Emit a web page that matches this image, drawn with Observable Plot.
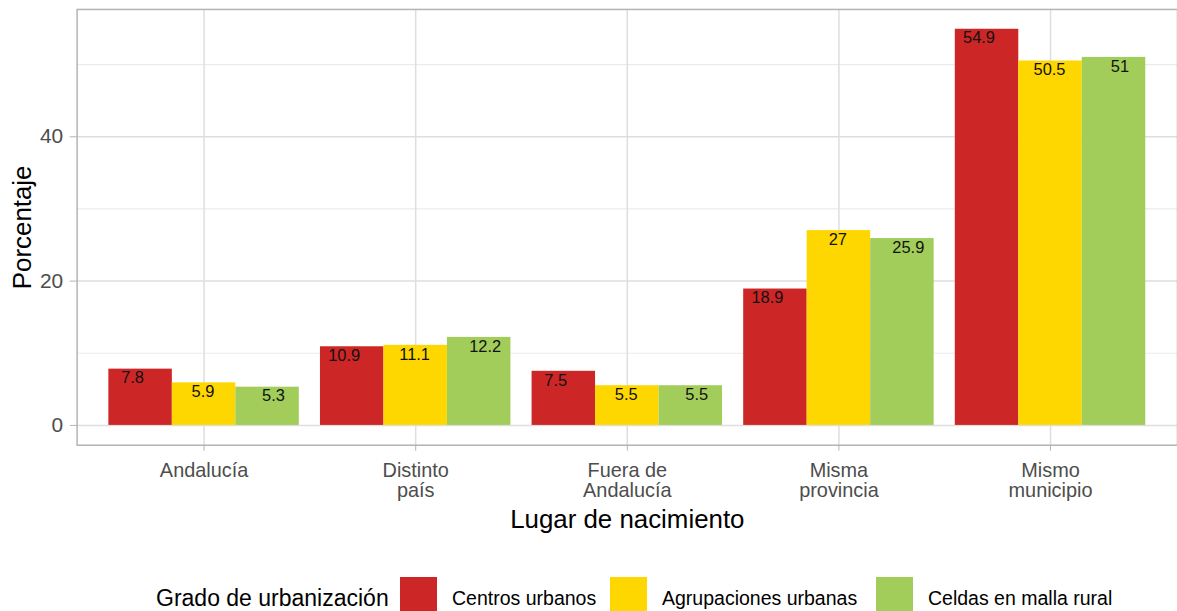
<!DOCTYPE html>
<html>
<head>
<meta charset="utf-8">
<script src="https://cdn.jsdelivr.net/npm/d3@7"></script>
<script src="https://cdn.jsdelivr.net/npm/@observablehq/plot@0.6"></script>
<style>
  html, body { margin: 0; padding: 0; background: #fff; }
  body { width: 1177px; height: 611px; overflow: hidden; position: relative; font-family: "Liberation Sans", Arial, sans-serif; }
  #chart { position: absolute; left: 0; top: 0; }
  #legend { position: absolute; left: 0; top: 577px; width: 1177px; height: 40px; }
  #legend .title { position: absolute; left: 156px; top: 0; line-height: 42px; font-size: 23px; color: #000; white-space: nowrap; }
  #legend .key { position: absolute; top: 0; width: 37px; height: 38px; }
  #legend .lab { position: absolute; top: 0; line-height: 42px; font-size: 19.5px; color: #000; white-space: nowrap; }
</style>
</head>
<body>
<div id="chart"></div>
<div id="legend"></div>
<script>
// ---- data ----
const categories = ["Andalucía", "Distinto\npaís", "Fuera de\nAndalucía", "Misma\nprovincia", "Mismo\nmunicipio"];
const groups = ["Centros urbanos", "Agrupaciones urbanas", "Celdas en malla rural"];
const centrosUrbanos = [7.8, 10.9, 7.5, 18.9, 54.9];
const agrupacionesUrbanas = [5.9, 11.1, 5.5, 27, 50.5];
const celdasMallaRural = [5.3, 12.2, 5.5, 25.9, 51];
const yTicks = [0, 20, 40];
const yMinorTicks = [10, 30, 50];
const colors = ["#CD2626", "#FFD700", "#A2CD5A"];

// ---- table ----
const seriesValues = [centrosUrbanos, agrupacionesUrbanas, celdasMallaRural];
const rows = [];
categories.forEach((c, i) => {
  groups.forEach((g, j) => {
    rows.push({category: c, ci: i + 1, group: g, gi: j, value: seriesValues[j][i]});
  });
});

// dodge geometry (ggplot-like: width 0.9, 3 groups)
const dodgeWidth = 0.9;
const barW = dodgeWidth / groups.length;
const labelSpread = 0.033;
const left = d => d.ci - dodgeWidth / 2 + d.gi * barW;
const yMax = d3.max(rows, d => d.value);
const pad = yMax * 0.05;

const chart = Plot.plot({
  width: 1183,
  height: 545,
  marginLeft: 77,
  marginRight: 0,
  marginTop: 9,
  marginBottom: 98,
  style: {fontFamily: "'Liberation Sans', Arial, sans-serif", background: "#fff", overflow: "visible"},
  x: {type: "linear", domain: [0.4, categories.length + 0.6], axis: null},
  y: {domain: [-pad, yMax + pad], axis: null},
  color: {domain: groups, range: colors},
  marks: [
    Plot.ruleY(yMinorTicks, {stroke: "#ebebeb", strokeWidth: 1.2}),
    Plot.ruleY(yTicks, {stroke: "#dedede", strokeWidth: 1.5}),
    Plot.ruleX(d3.range(1, categories.length + 1), {stroke: "#dedede", strokeWidth: 1.5}),
    Plot.rectY(rows, {
      x1: d => left(d),
      x2: d => left(d) + barW,
      y1: 0,
      y2: "value",
      fill: "group"
    }),
    Plot.text(rows, {
      x: d => left(d) + barW / 2 + (d.gi - 1) * labelSpread - 0.005,
      y: "value",
      text: d => String(d.value),
      dy: 9,
      fontSize: 16.5,
      fill: "#111"
    }),
    Plot.frame({stroke: "#b3b3b3", strokeWidth: 1.5}),
    Plot.axisY({
      ticks: yTicks,
      tickSize: 7,
      tickPadding: 7,
      fontSize: 21,
      stroke: "#b3b3b3",
      fill: "#4d4d4d",
      label: null
    }),
    Plot.axisX({
      ticks: d3.range(1, categories.length + 1),
      tickFormat: i => categories[i - 1],
      tickSize: 6,
      tickPadding: 12,
      fontSize: 20,
      lineHeight: 1,
      stroke: "#b3b3b3",
      fill: "#4d4d4d",
      label: null
    }),
    Plot.text(["Lugar de nacimiento"], {
      frameAnchor: "bottom",
      textAnchor: "middle",
      lineAnchor: "middle",
      dy: 75,
      fontSize: 26,
      fill: "#000"
    }),
    Plot.text(["Porcentaje"], {
      frameAnchor: "left",
      textAnchor: "middle",
      lineAnchor: "middle",
      rotate: -90,
      dx: -55,
      fontSize: 26,
      fill: "#000"
    })
  ]
});
document.getElementById("chart").appendChild(chart);

// ---- legend ----
const legend = document.getElementById("legend");
const keyLefts = [400, 610, 876];
const labLefts = [452, 662, 928];
const t = document.createElement("span");
t.className = "title";
t.textContent = "Grado de urbanización";
legend.appendChild(t);
groups.forEach((g, j) => {
  const k = document.createElement("span");
  k.className = "key";
  k.style.left = keyLefts[j] + "px";
  k.style.background = colors[j];
  legend.appendChild(k);
  const l = document.createElement("span");
  l.className = "lab";
  l.style.left = labLefts[j] + "px";
  l.textContent = g;
  legend.appendChild(l);
});
</script>
</body>
</html>
